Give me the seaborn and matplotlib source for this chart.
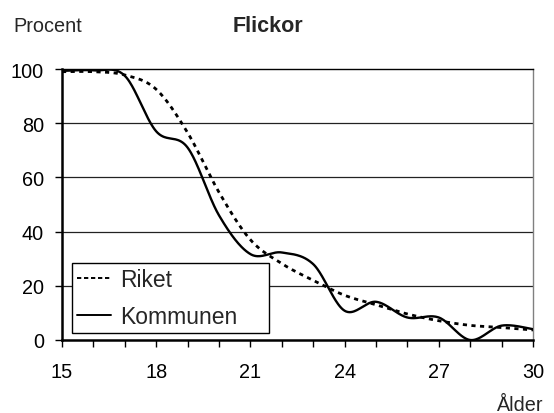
import numpy as np
import pandas as pd
import matplotlib
matplotlib.use("Agg")
import matplotlib.pyplot as plt
import seaborn as sns
from matplotlib.lines import Line2D

# ---- data ----
ages = [15, 16, 17, 18, 19, 20, 21, 22, 23, 24, 25, 26, 27, 28, 29, 30]
riket = [99.0, 99.0, 97.8, 92.5, 76.5, 54.5, 37.0, 28.2, 22.0, 16.5, 13.0, 9.6, 7.1, 5.4, 4.6, 3.7]
kommunen = [99.3, 99.5, 97.5, 77.0, 71.0, 46.0, 31.7, 32.3, 28.0, 10.8, 14.1, 8.3, 8.3, 0.0, 5.3, 4.0]
x_ticks = [15, 18, 21, 24, 27, 30]
y_ticks = [0, 20, 40, 60, 80, 100]
title = "Flickor"
y_label = "Procent"
x_label = "Ålder"
series_names = ["Riket", "Kommunen"]


def smooth_curve(xs, ys, n=40):
    """Excel-style smoothed line (Catmull-Rom as cubic Bezier) through the points."""
    px = np.asarray(xs, float)
    py = np.asarray(ys, float)
    P = np.column_stack([px, py])
    P = np.vstack([P[0], P, P[-1]])
    out = []
    t = np.linspace(0, 1, n)[:, None]
    for i in range(1, len(P) - 2):
        p0, p3 = P[i], P[i + 1]
        c1 = p0 + (P[i + 1] - P[i - 1]) / 6.0
        c2 = p3 - (P[i + 2] - P[i]) / 6.0
        seg = ((1 - t) ** 3) * p0 + 3 * ((1 - t) ** 2) * t * c1 + 3 * (1 - t) * t ** 2 * c2 + t ** 3 * p3
        out.append(seg if i == 1 else seg[1:])
    out = np.vstack(out)
    return out[:, 0], out[:, 1]


sns.set_style("white")
plt.rcParams["font.family"] = ["Liberation Sans", "DejaVu Sans"]

fig = plt.figure(figsize=(5.54, 4.14), dpi=100)
ax = fig.add_axes([62 / 554, 1 - 341 / 414, (533 - 62) / 554, (341 - 70) / 414])

rx, ry = smooth_curve(ages, riket)
kx, ky = smooth_curve(ages, kommunen)
df_r = pd.DataFrame({"x": rx, "y": ry})
df_k = pd.DataFrame({"x": kx, "y": ky})

# grid lines
for yv in y_ticks[1:-1]:
    ax.axhline(yv, color="#222222", lw=0.9, zorder=1)

sns.lineplot(data=df_r, x="x", y="y", ax=ax, color="black", lw=2.0, sort=False,
             estimator=None, zorder=3)
ax.lines[-1].set_linestyle((0, (1.5, 1.6)))
sns.lineplot(data=df_k, x="x", y="y", ax=ax, color="black", lw=1.7, sort=False,
             estimator=None, zorder=4)

ax.set_xlim(15, 30)
ax.set_ylim(0, 100)
ax.set_xticks(x_ticks)
ax.set_xticks(ages, minor=True)
ax.set_yticks(y_ticks)
ax.set_xlabel("")
ax.set_ylabel("")

ax.tick_params(axis="both", which="both", direction="out", length=5, width=1.0,
               color="black", labelsize=14.3, labelcolor="black")
ax.tick_params(axis="x", which="both", bottom=True, pad=10.5)
ax.tick_params(axis="y", which="both", left=True, pad=8)

for s in ["left", "bottom"]:
    ax.spines[s].set_color("black")
    ax.spines[s].set_linewidth(1.8)
ax.spines["top"].set_color("black")
ax.spines["top"].set_linewidth(1.0)
ax.spines["right"].set_color("#808080")
ax.spines["right"].set_linewidth(1.0)

handles = [Line2D([], [], color="black", lw=1.4, linestyle=(0, (2.2, 1.4))),
           Line2D([], [], color="black", lw=1.4)]
leg = ax.legend(handles, series_names, loc="upper left",
                bbox_to_anchor=(0.0206, 0.284, 0.418, 0.0), mode="expand",
                fontsize=16.5, frameon=True, fancybox=False, handlelength=1.5,
                handletextpad=0.4, borderpad=0.22, labelspacing=0.6, borderaxespad=0)
leg.get_frame().set_edgecolor("black")
leg.get_frame().set_linewidth(1.0)
leg.get_frame().set_facecolor("white")
leg.get_frame().set_alpha(1)
leg.set_zorder(10)

fig.text(13 / 554, 1 - 27 / 414, y_label, fontsize=14.3, ha="left", va="center")
fig.text(268 / 554, 1 - 26 / 414, title, fontsize=15.5, fontweight="bold",
         ha="center", va="center")
fig.text(543 / 554, 1 - 406 / 414, x_label, fontsize=14.3, ha="right", va="center")

fig.savefig("out.png", dpi=100)
